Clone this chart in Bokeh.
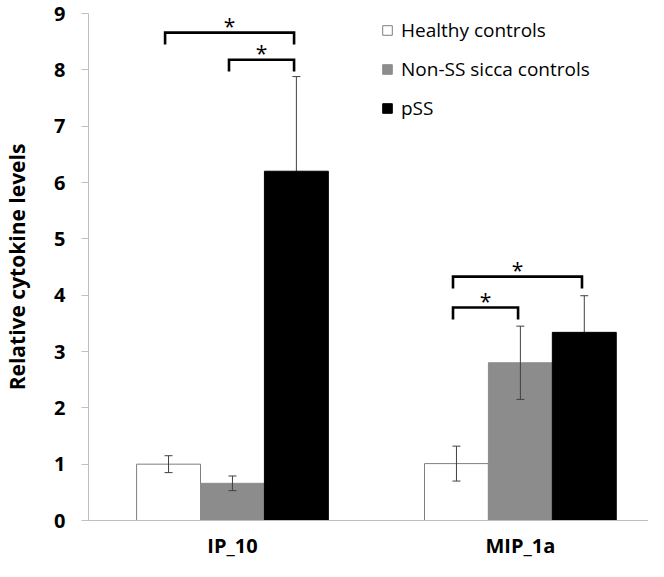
from bokeh.plotting import figure
from bokeh.models import (Range1d, FixedTicker, Whisker, ColumnDataSource, Legend,
                          LegendItem, TeeHead)
from bokeh.core.properties import value
from bokeh.embed import file_html
from bokeh.resources import INLINE

# ---- data ----
categories = ["IP_10", "MIP_1a"]
groups = ["Healthy controls", "Non-SS sicca controls", "pSS"]
healthy = [1.00, 1.01]
healthy_err = [0.15, 0.31]
sicca = [0.66, 2.80]
sicca_err = [0.13, 0.65]
pss = [6.20, 3.34]
pss_err = [1.68, 0.65]
y_ticks = [0, 1, 2, 3, 4, 5, 6, 7, 8, 9]

# significance brackets: category index, from group, to group, height, label
sig_category = [0, 0, 1, 1]
sig_from = [0, 1, 0, 0]
sig_to = [2, 2, 2, 1]
sig_height = [8.66, 8.18, 4.33, 3.78]
sig_label = ["*", "*", "*", "*"]
sig_drop = 0.21

# ---- styling ----
FONT = "Open Sans"
bar_w = 0.222
fills = ["#ffffff", "#8c8c8c", "#000000"]
lines = ["#7f7f7f", "#8c8c8c", "#000000"]
axis_col = "#bfbfbf"
err_col = "#404040"

cat_x = [i + 0.5 for i in range(len(categories))]

p = figure(width=648, height=561, output_backend="svg", toolbar_location=None,
           x_range=Range1d(0, 1.945), y_range=Range1d(0, 9),
           min_border_left=87, min_border_right=0, min_border_top=13,
           min_border_bottom=38)
p.outline_line_color = None
p.xgrid.visible = False
p.ygrid.visible = False
p.background_fill_color = "white"

series = [healthy, sicca, pss]
errors = [healthy_err, sicca_err, pss_err]
renderers = []
for g, (vals, errs) in enumerate(zip(series, errors)):
    off = (g - 1) * bar_w
    xs = [c + off for c in cat_x]
    src = ColumnDataSource(dict(
        x=xs, top=vals,
        upper=[v + e for v, e in zip(vals, errs)],
        lower=[v - e for v, e in zip(vals, errs)],
    ))
    r = p.vbar(x="x", top="top", bottom=0, width=bar_w, source=src,
               fill_color=fills[g], line_color=lines[g], line_width=1)
    renderers.append(r)
    w = Whisker(source=src, base="x", upper="upper", lower="lower",
                line_color=err_col, line_width=1,
                upper_head=TeeHead(size=8, line_color=err_col, line_width=1),
                lower_head=TeeHead(size=8, line_color=err_col, line_width=1),
                level="underlay" if g == 2 else "annotation")
    p.add_layout(w)

# brackets
bx, by, sx, sy = [], [], [], []
for c, a, b, h in zip(sig_category, sig_from, sig_to, sig_height):
    x1 = cat_x[c] + (a - 1) * bar_w - 0.012
    x2 = cat_x[c] + (b - 1) * bar_w - 0.008
    bx.append([x1, x1, x2, x2])
    by.append([h - sig_drop, h, h, h - sig_drop])
    sx.append((x1 + x2) / 2)
    sy.append(h)
p.multi_line(xs=bx, ys=by, line_color="black", line_width=2.6, line_join="miter")
p.text(x=sx, y=sy, text=sig_label, text_align="center", text_baseline="alphabetic",
       y_offset=-7, text_font=value(FONT), text_font_size="21px", text_color="black")

# axes
ya = p.yaxis[0]
ya.ticker = FixedTicker(ticks=y_ticks)
ya.axis_line_color = axis_col
ya.major_tick_line_color = axis_col
ya.major_tick_out = 7
ya.major_tick_in = 0
ya.minor_tick_line_color = None
ya.major_label_standoff = 16
ya.major_label_text_font = FONT
ya.major_label_text_font_style = "bold"
ya.major_label_text_font_size = "20px"
ya.major_label_text_color = "black"
ya.axis_label = "Relative cytokine levels"
ya.axis_label_text_font = FONT
ya.axis_label_text_font_style = "bold"
ya.axis_label_text_font_size = "21px"
ya.axis_label_text_color = "black"
ya.axis_label_standoff = 20

xa = p.xaxis[0]
xa.ticker = FixedTicker(ticks=cat_x)
xa.major_label_overrides = {x: c for x, c in zip(cat_x, categories)}
xa.axis_line_color = axis_col
xa.major_tick_line_color = None
xa.major_tick_out = 0
xa.major_tick_in = 0
xa.minor_tick_line_color = None
xa.major_label_standoff = 11
xa.major_label_text_font = FONT
xa.major_label_text_font_style = "bold"
xa.major_label_text_font_size = "20px"
xa.major_label_text_color = "black"

legend = Legend(items=[LegendItem(label=groups[i], renderers=[renderers[i]]) for i in range(3)],
                location=(293, 399), glyph_width=12, glyph_height=12,
                label_text_font=FONT, label_text_font_size="19px", label_text_color="black",
                label_height=26, spacing=13, padding=0, margin=0, label_standoff=8,
                border_line_alpha=0, background_fill_alpha=0)
p.add_layout(legend)

open("out.html", "w").write(file_html(p, INLINE))
